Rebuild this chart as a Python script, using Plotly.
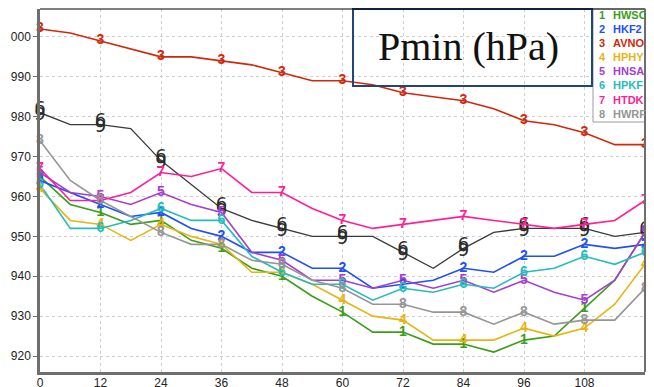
import plotly.graph_objects as go

hours = list(range(0, 121, 6))

hwsc = [965, 958, 956, 953, 954, 949, 947, 942, 940, 935, 931, 926, 926, 923, 923, 921, 924, 925, 932, 939, 951]
hkf2 = [964, 961, 958, 955, 956, 952, 950, 946, 946, 942, 942, 937, 938, 939, 942, 941, 945, 945, 948, 947, 948]
avno = [1002, 1001, 999, 997, 995, 995, 994, 993, 991, 989, 989, 988, 986, 985, 984, 982, 979, 978, 976, 973, 973]
hphy = [962, 954, 953, 949, 953, 950, 948, 941, 941, 938, 934, 930, 929, 924, 924, 924, 927, 925, 927, 933, 943]
hnsa = [966, 961, 960, 958, 961, 958, 956, 946, 944, 939, 939, 937, 939, 937, 939, 936, 939, 936, 934, 939, 951]
hpkf = [963, 952, 952, 954, 957, 954, 954, 945, 941, 938, 938, 934, 937, 936, 938, 937, 941, 942, 945, 943, 946]
htdk = [967, 959, 959, 961, 966, 965, 967, 961, 961, 957, 954, 952, 953, 954, 955, 954, 953, 952, 953, 954, 959]
hwrf = [974, 964, 959, 955, 951, 948, 948, 944, 943, 939, 937, 933, 933, 931, 931, 928, 931, 928, 929, 929, 937]
obs = [981, 978, 978, 977, 969, 963, 957, 954, 952, 950, 950, 950, 946, 942, 947, 951, 952, 952, 952, 950, 951]

names = ["HWSC", "HKF2", "AVNO", "HPHY", "HNSA", "HPKF", "HTDK", "HWRF"]
series = [hwsc, hkf2, avno, hphy, hnsa, hpkf, htdk, hwrf]
colors = ["#3a9e1a", "#1f4ff5", "#d0280a", "#e8b414", "#a83cd0", "#25bcbc", "#ff1e96", "#959595"]

x_ticks = list(range(0, 121, 12))
y_ticks = [920, 930, 940, 950, 960, 970, 980, 990, 1000]
y_ticktext = ["920", "930", "940", "950", "960", "970", "980", "990", "000"]

fig = go.Figure()

# observed (black line with hurricane symbol built from an overlaid 6 and 9)
fig.add_trace(go.Scatter(x=hours, y=obs, mode="lines",
                         line=dict(color="#3a3a3a", width=1.3), showlegend=False))
obs12 = obs[::2]
h12 = hours[::2]
fig.add_trace(go.Scatter(x=h12, y=[v + 0.8 for v in obs12], mode="text", text=["6"] * len(obs12),
                         textfont=dict(family="DejaVu Sans", size=18, color="#2a2a2a"),
                         showlegend=False, cliponaxis=False))
fig.add_trace(go.Scatter(x=h12, y=[v - 0.8 for v in obs12], mode="text", text=["9"] * len(obs12),
                         textfont=dict(family="DejaVu Sans", size=18, color="#2a2a2a"),
                         showlegend=False, cliponaxis=False))

for nm, vals, col in zip(names, series, colors):
    fig.add_trace(go.Scatter(x=hours, y=vals, mode="lines",
                             line=dict(color=col, width=1.6), showlegend=False))
for i, (nm, vals, col) in enumerate(zip(names, series, colors)):
    fig.add_trace(go.Scatter(x=hours[::2], y=vals[::2], mode="text",
                             text=["<b>%d</b>" % (i + 1)] * len(vals[::2]),
                             textfont=dict(family="Liberation Sans", size=14, color=col),
                             showlegend=False, cliponaxis=False))

# Legend box (custom)
fig.add_shape(type="rect", xref="paper", yref="paper",
              x0=(593 - 40) / 605, x1=(648 - 40) / 605,
              y0=(372 - 122) / 363, y1=(372 - 9) / 363,
              fillcolor="white", line=dict(color="#9a9a9a", width=1), layer="above")
for i, (nm, col) in enumerate(zip(names, colors)):
    ypix = 15 + i * 14.1
    fig.add_annotation(xref="paper", yref="paper",
                       x=(597 - 40) / 605, y=(372 - ypix) / 363,
                       text="<b>%d</b>" % (i + 1), showarrow=False,
                       xanchor="left", yanchor="middle",
                       font=dict(family="Liberation Sans", size=11, color=col))
    fig.add_annotation(xref="paper", yref="paper",
                       x=(611 - 40) / 605, y=(372 - ypix) / 363,
                       text="<b>%s</b>" % nm, showarrow=False,
                       xanchor="left", yanchor="middle",
                       font=dict(family="Liberation Sans", size=11, color=col))

# Title box
fig.add_shape(type="rect", xref="paper", yref="paper",
              x0=(353 - 40) / 605, x1=(592 - 40) / 605,
              y0=(372 - 86) / 363, y1=(372 - 9) / 363,
              line=dict(color="#22447a", width=2), fillcolor="rgba(0,0,0,0)", layer="above")
fig.add_annotation(xref="paper", yref="paper",
                   x=(468 - 40) / 605, y=(372 - 47) / 363,
                   text="Pmin (hPa)", showarrow=False,
                   xanchor="center", yanchor="middle",
                   font=dict(family="Liberation Serif", size=40, color="#111111"))

# top black and right gray frame lines
fig.add_shape(type="line", xref="paper", yref="paper", x0=0, x1=1, y0=1, y1=1,
              line=dict(color="black", width=1.2))
fig.add_shape(type="line", xref="paper", yref="paper", x0=1, x1=1, y0=0, y1=1,
              line=dict(color="#6e6e6e", width=2))

# page body has an 8px default margin, so the figure is drawn 8px smaller
fig.update_layout(
    width=646, height=379,
    margin=dict(l=32, r=9, t=1, b=15),
    plot_bgcolor="white", paper_bgcolor="white",
    showlegend=False,
    font=dict(family="Liberation Sans", size=11, color="#222222"),
    xaxis=dict(range=[0, 120], tickvals=x_ticks, ticktext=[str(v) for v in x_ticks],
               showgrid=True, gridcolor="#cfcfcf", griddash="dot", gridwidth=1,
               showline=True, linecolor="#6e6e6e", linewidth=2.5,
               ticks="", ticklabelstandoff=-2,
               zeroline=False, tickfont=dict(size=12), automargin=False),
    yaxis=dict(range=[916, 1007], tickvals=y_ticks, ticktext=y_ticktext,
               showgrid=True, gridcolor="#cfcfcf", griddash="dot", gridwidth=1,
               showline=True, linecolor="#6e6e6e", linewidth=2.5,
               ticks="outside", ticklen=4, tickcolor="#6e6e6e",
               zeroline=False, tickfont=dict(size=12), automargin=False),
)

fig.write_html("out.html")
